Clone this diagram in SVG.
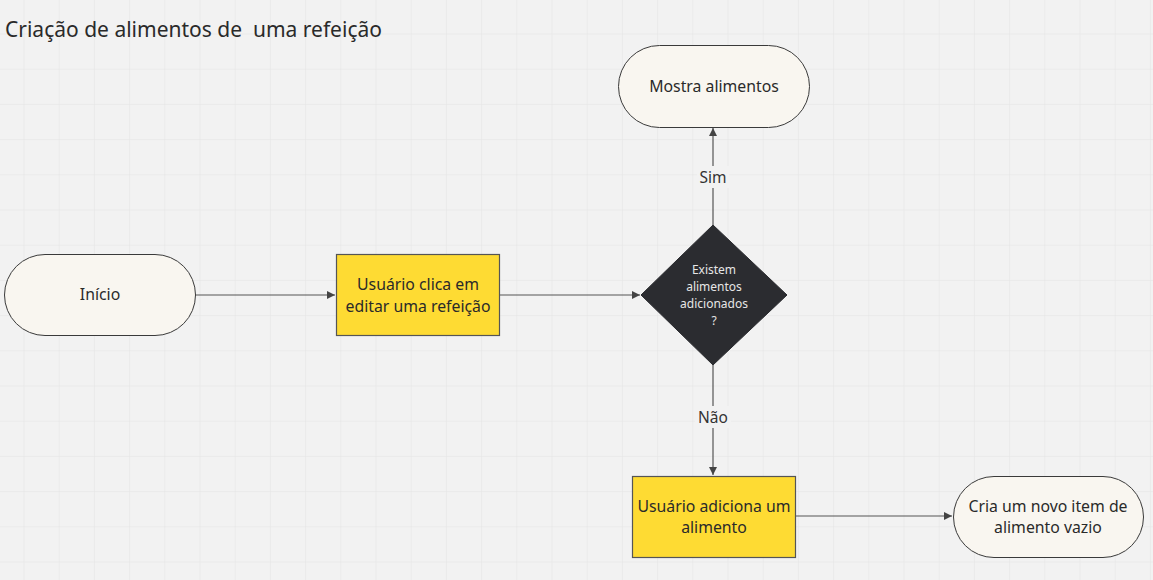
<svg xmlns="http://www.w3.org/2000/svg" width="1153" height="580" viewBox="0 0 1153 580">
<defs>
<pattern id="grid" x="23.5" y="33.5" width="35.2" height="35.2" patternUnits="userSpaceOnUse">
<path d="M0 0H35.2M0 0V35.2" fill="none" stroke="#e4e4e4" stroke-width="1"/>
</pattern>
<marker id="arr" markerWidth="10" markerHeight="10" refX="8" refY="4" orient="auto" markerUnits="userSpaceOnUse">
<path d="M0,0 L8,4 L0,8 Z" fill="#444"/>
</marker>
<style>
text{font-family:"Noto Sans","Open Sans","Liberation Sans",sans-serif;fill:#2a2a2a;text-anchor:middle}
.term{fill:#f9f6f0;stroke:#3a3a3a;stroke-width:1}
.proc{fill:#fedb33;stroke:#555;stroke-width:1.2}
.dec{fill:#2b2c30;stroke:#2b2c30}
.lbl{font-size:15.8px}
.dtxt{font-size:12px;fill:#e6e6e6}
.conn{fill:none;stroke:#555;stroke-width:1.2;marker-end:url(#arr)}
.cl{font-size:15.5px;fill:#333}
</style>
</defs>
<rect width="1153" height="580" fill="#f2f2f2"/>
<rect width="1153" height="580" fill="url(#grid)"/>
<text x="5" y="37" xml:space="preserve" style="text-anchor:start;font-size:21px;white-space:pre" fill="#1e1e1e">Criação de alimentos de  uma refeição</text>
<g id="connectors">
<path class="conn" d="M195,295 H335"/>
<path class="conn" d="M499,295 H640"/>
<path class="conn" d="M713,225 V128"/>
<path class="conn" d="M713,365 V475"/>
<path class="conn" d="M795,516 H952"/>
<rect x="697" y="166" width="32" height="22" fill="#f2f2f2"/>
<text class="cl" x="713" y="183">Sim</text>
<rect x="695" y="406" width="36" height="22" fill="#f2f2f2"/>
<text class="cl" x="713" y="423">Não</text>
</g>
<g id="inicio">
<rect class="term" x="4.5" y="254.5" width="191" height="81" rx="40.5"/>
<text class="lbl" x="100" y="300">Início</text>
</g>
<g id="usuario-clica">
<rect class="proc" x="336.5" y="254.5" width="163" height="81"/>
<text class="lbl" x="418" y="290">Usuário clica em</text>
<text class="lbl" x="418" y="312">editar uma refeição</text>
</g>
<g id="decisao">
<polygon class="dec" points="713,225 787,295 713,365 641,295"/>
<text class="dtxt" x="714" y="274">Existem</text>
<text class="dtxt" x="714" y="291">alimentos</text>
<text class="dtxt" x="714" y="308">adicionados</text>
<text class="dtxt" x="714" y="325">?</text>
</g>
<g id="mostra">
<rect class="term" x="618.5" y="45.5" width="191" height="82" rx="41"/>
<text class="lbl" x="714" y="92">Mostra alimentos</text>
</g>
<g id="usuario-adiciona">
<rect class="proc" x="632.5" y="476.5" width="163" height="81"/>
<text class="lbl" x="714" y="512">Usuário adiciona um</text>
<text class="lbl" x="714" y="533">alimento</text>
</g>
<g id="cria-item">
<rect class="term" x="953.5" y="476.5" width="190" height="81" rx="40.5"/>
<text class="lbl" x="1048" y="512">Cria um novo item de</text>
<text class="lbl" x="1048" y="533">alimento vazio</text>
</g>
</svg>
